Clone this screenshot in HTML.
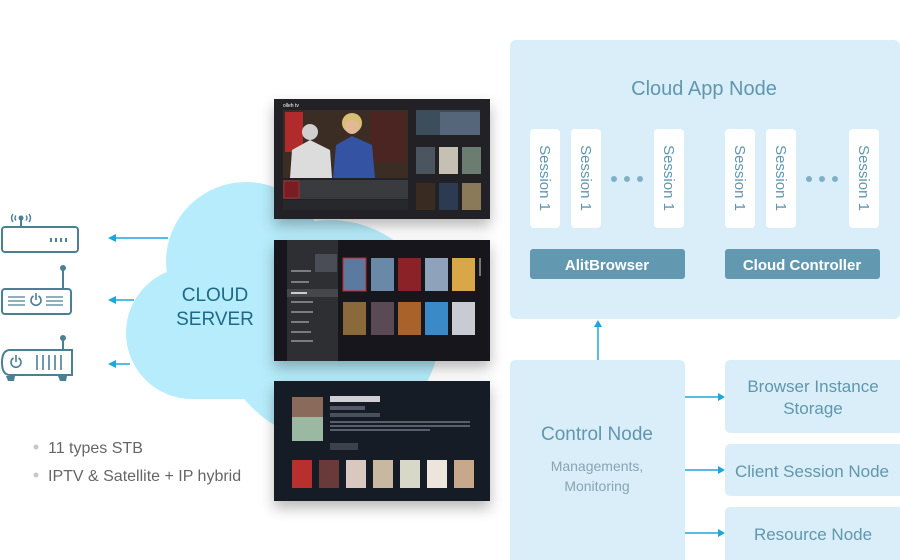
<!DOCTYPE html>
<html><head><meta charset="utf-8">
<style>
html,body{margin:0;padding:0;background:#fff;}
svg{display:block;}
text{font-family:"Liberation Sans","Noto Sans CJK KR",sans-serif;}
</style></head>
<body>
<svg width="900" height="560" viewBox="0 0 900 560" xmlns="http://www.w3.org/2000/svg">
<defs>
<filter id="sh" x="-20%" y="-20%" width="140%" height="150%">
<feDropShadow dx="0" dy="7" stdDeviation="7" flood-color="#000" flood-opacity="0.28"/>
</filter>
</defs>

<!-- Cloud -->
<g fill="#b6ecfb">
<circle cx="246" cy="262" r="80"/>
<circle cx="192" cy="333" r="66"/>
<circle cx="330" cy="330" r="110"/>
<rect x="192" y="300" width="140" height="99"/>
</g>

<!-- arrows from cloud -->
<g stroke="#1aa6df" stroke-width="1.5">
<line x1="114" y1="238" x2="168" y2="238"/>
<line x1="114" y1="300" x2="134" y2="300"/>
<line x1="114" y1="364" x2="130" y2="364"/>
</g>
<g fill="#1aa6df">
<polygon points="108,238 116,234 116,242"/>
<polygon points="108,300 116,296 116,304"/>
<polygon points="108,364 116,360 116,368"/>
</g>

<text x="215" y="301" font-size="19" fill="#1d6a88" text-anchor="middle">CLOUD</text>
<text x="215" y="325" font-size="19" fill="#1d6a88" text-anchor="middle">SERVER</text>

<!-- Device icons -->
<g stroke="#4b7f94" stroke-width="2" fill="none">
<rect x="2" y="227" width="76" height="25" rx="3"/>
<line x1="21" y1="227" x2="21" y2="220"/>
<path d="M13,214 q-3,4 0,8 M16,215.5 q-2,2.5 0,5 M29,214 q3,4 0,8 M26,215.5 q2,2.5 0,5" stroke-width="1.4"/>
<rect x="2" y="289" width="69" height="25" rx="3"/>
<line x1="63" y1="289" x2="63" y2="270"/>
<line x1="8" y1="297" x2="25" y2="297" stroke-width="1.3"/>
<line x1="8" y1="301" x2="25" y2="301" stroke-width="1.3"/>
<line x1="8" y1="305" x2="25" y2="305" stroke-width="1.3"/>
<line x1="46" y1="297" x2="63" y2="297" stroke-width="1.3"/>
<line x1="46" y1="301" x2="63" y2="301" stroke-width="1.3"/>
<line x1="46" y1="305" x2="63" y2="305" stroke-width="1.3"/>
<path d="M33.5,296 a5,5 0 1 0 5,0" stroke-width="1.6"/>
<line x1="36" y1="293" x2="36" y2="300" stroke-width="1.6"/>
<path d="M10,350 L72,350 L72,375 L10,375 Q2,375 2,362.5 Q2,350 10,350 Z"/>
<line x1="63" y1="350" x2="63" y2="340"/>
<path d="M13.5,358 a5,5 0 1 0 5,0" stroke-width="1.6"/>
<line x1="16" y1="355" x2="16" y2="362" stroke-width="1.6"/>
<line x1="37" y1="355" x2="37" y2="370" stroke-width="1.6"/>
<line x1="43" y1="355" x2="43" y2="370" stroke-width="1.6"/>
<line x1="49" y1="355" x2="49" y2="370" stroke-width="1.6"/>
<line x1="55" y1="355" x2="55" y2="370" stroke-width="1.6"/>
<line x1="61" y1="355" x2="61" y2="370" stroke-width="1.6"/>
</g>
<g fill="#4b7f94">
<circle cx="21" cy="218" r="2.5"/>
<circle cx="63" cy="268" r="3"/>
<circle cx="63" cy="338" r="3"/>
<rect x="50" y="238" width="2" height="4"/><rect x="55" y="238" width="2" height="4"/><rect x="60" y="238" width="2" height="4"/><rect x="65" y="238" width="2" height="4"/>
<path d="M6,376 L15,376 L14,381 L8,381 Z"/>
<path d="M58,376 L67,376 L66,381 L60,381 Z"/>
</g>

<!-- bullets -->
<circle cx="36" cy="447" r="2.5" fill="#c8c8c8"/>
<circle cx="36" cy="475" r="2.5" fill="#c8c8c8"/>
<text x="48" y="453" font-size="16" fill="#666">11 types STB</text>
<text x="48" y="481" font-size="16" fill="#666">IPTV &amp; Satellite + IP hybrid</text>

<!-- Screen 1 -->
<g filter="url(#sh)"><rect x="274" y="99" width="216" height="120" fill="#222427"/></g>
<text x="283" y="107" font-size="5" fill="#fff">olleh tv</text>
<rect x="283" y="110" width="125" height="68" fill="#3b2c24"/>
<rect x="285" y="112" width="18" height="40" fill="#b22b2c"/>
<rect x="370" y="112" width="36" height="50" fill="#4a2522"/>
<path d="M290,178 L292,150 L310,140 L330,150 L332,178 Z" fill="#dcdcdc"/>
<circle cx="310" cy="132" r="8" fill="#cfcfcf"/>
<path d="M333,178 L336,145 L352,136 L372,145 L375,178 Z" fill="#3453a2"/>
<circle cx="352" cy="123" r="10" fill="#d8c072"/>
<circle cx="352" cy="127" r="7" fill="#e3b896"/>
<rect x="283" y="180" width="125" height="19" fill="#3a3b3f"/>
<rect x="284" y="181" width="15" height="17" fill="#7a1d23" stroke="#c33" stroke-width="0.6"/>
<rect x="283" y="200" width="125" height="10" fill="#26282b"/>
<rect x="416" y="110" width="64" height="25" fill="#3c4d5c"/>
<rect x="440" y="112" width="40" height="23" fill="#55667a"/>
<rect x="416" y="147" width="19" height="27" fill="#4b5560"/>
<rect x="439" y="147" width="19" height="27" fill="#c6c0b4"/>
<rect x="462" y="147" width="19" height="27" fill="#6b7d70"/>
<rect x="416" y="183" width="19" height="27" fill="#3a2b22"/>
<rect x="439" y="183" width="19" height="27" fill="#2c3a52"/>
<rect x="462" y="183" width="19" height="27" fill="#8a7a5a"/>

<!-- Screen 2 -->
<g filter="url(#sh)"><rect x="274" y="240" width="216" height="121" fill="#16181b"/></g>
<rect x="287" y="240" width="51" height="121" fill="#2d2f32"/>
<rect x="287" y="289" width="51" height="8" fill="#45474b"/>
<rect x="315" y="254" width="22" height="18" fill="#4a4d55"/>
<g fill="#7a7c80">
<rect x="291" y="270" width="20" height="2"/><rect x="291" y="281" width="18" height="2"/><rect x="291" y="292" width="16" height="2" fill="#ccc"/><rect x="291" y="301" width="22" height="2"/><rect x="291" y="311" width="22" height="2"/><rect x="291" y="321" width="18" height="2"/><rect x="291" y="331" width="20" height="2"/><rect x="291" y="340" width="22" height="2"/>
</g>
<rect x="343" y="258" width="23" height="33" fill="#5a7aa0" stroke="#c22" stroke-width="1"/>
<rect x="371" y="258" width="23" height="33" fill="#6a88a8"/>
<rect x="398" y="258" width="23" height="33" fill="#8a2228"/>
<rect x="425" y="258" width="23" height="33" fill="#8ea2bc"/>
<rect x="452" y="258" width="23" height="33" fill="#d9a648"/>
<rect x="343" y="302" width="23" height="33" fill="#8a6a3a"/>
<rect x="371" y="302" width="23" height="33" fill="#5a4a55"/>
<rect x="398" y="302" width="23" height="33" fill="#a8622a"/>
<rect x="425" y="302" width="23" height="33" fill="#3a8ac8"/>
<rect x="452" y="302" width="23" height="33" fill="#c8ccd2"/>
<rect x="479" y="258" width="2" height="18" fill="#777"/>

<!-- Screen 3 -->
<g filter="url(#sh)"><rect x="274" y="381" width="216" height="120" fill="#151a26"/></g>
<rect x="292" y="397" width="31" height="44" fill="#9ab8a2"/>
<rect x="292" y="397" width="31" height="20" fill="#8a6a5a"/>
<rect x="330" y="396" width="50" height="6" fill="#cfcfd4"/>
<rect x="330" y="406" width="35" height="4" fill="#555a66"/>
<rect x="330" y="413" width="50" height="4" fill="#4a4f5c"/>
<rect x="330" y="421" width="140" height="2" fill="#5a5f6c"/>
<rect x="330" y="425" width="140" height="2" fill="#5a5f6c"/>
<rect x="330" y="429" width="100" height="2" fill="#5a5f6c"/>
<rect x="330" y="443" width="28" height="7" fill="#3d414c"/>
<rect x="292" y="460" width="20" height="28" fill="#b8302e"/>
<rect x="319" y="460" width="20" height="28" fill="#6a3a3a"/>
<rect x="346" y="460" width="20" height="28" fill="#d8c8c0"/>
<rect x="373" y="460" width="20" height="28" fill="#c8b8a0"/>
<rect x="400" y="460" width="20" height="28" fill="#d8d8c8"/>
<rect x="427" y="460" width="20" height="28" fill="#ede4dc"/>
<rect x="454" y="460" width="20" height="28" fill="#c8a88a"/>

<!-- Cloud App Node -->
<rect x="510" y="40" width="390" height="279" rx="6" fill="#d9eef8"/>
<text x="704" y="95" font-size="20" fill="#6097ae" text-anchor="middle">Cloud App Node</text>
<g fill="#fff">
<rect x="530" y="129" width="30" height="99" rx="4"/>
<rect x="571" y="129" width="30" height="99" rx="4"/>
<rect x="654" y="129" width="30" height="99" rx="4"/>
<rect x="725" y="129" width="30" height="99" rx="4"/>
<rect x="766" y="129" width="30" height="99" rx="4"/>
<rect x="849" y="129" width="30" height="99" rx="4"/>
</g>
<g font-size="15" fill="#6097ae" text-anchor="middle">
<text transform="translate(540,178) rotate(90)">Session 1</text>
<text transform="translate(581,178) rotate(90)">Session 1</text>
<text transform="translate(664,178) rotate(90)">Session 1</text>
<text transform="translate(735,178) rotate(90)">Session 1</text>
<text transform="translate(776,178) rotate(90)">Session 1</text>
<text transform="translate(859,178) rotate(90)">Session 1</text>
</g>
<g fill="#7fb0c6">
<circle cx="614" cy="179" r="3"/><circle cx="627" cy="179" r="3"/><circle cx="640" cy="179" r="3"/>
<circle cx="809" cy="179" r="3"/><circle cx="822" cy="179" r="3"/><circle cx="835" cy="179" r="3"/>
</g>
<rect x="530" y="249" width="155" height="30" rx="3" fill="#6399b0"/>
<rect x="725" y="249" width="155" height="30" rx="3" fill="#6399b0"/>
<text x="607" y="270" font-size="15" fill="#fff" text-anchor="middle" font-weight="bold">AlitBrowser</text>
<text x="802" y="270" font-size="15" fill="#fff" text-anchor="middle" font-weight="bold">Cloud Controller</text>

<!-- arrow up -->
<line x1="598" y1="360" x2="598" y2="326" stroke="#1aa6df" stroke-width="1.5"/>
<polygon points="598,320 594,327 602,327" fill="#1aa6df"/>

<!-- Control Node -->
<rect x="510" y="360" width="175" height="206" rx="5" fill="#d9eef8"/>
<text x="597" y="440" font-size="19" fill="#6097ae" text-anchor="middle">Control Node</text>
<text x="597" y="471" font-size="14" fill="#8aa4b1" text-anchor="middle">Managements,</text>
<text x="597" y="491" font-size="14" fill="#8aa4b1" text-anchor="middle">Monitoring</text>

<!-- right boxes -->
<rect x="725" y="360" width="180" height="73" rx="5" fill="#d9eef8"/>
<rect x="725" y="444" width="180" height="52" rx="5" fill="#d9eef8"/>
<rect x="725" y="507" width="180" height="59" rx="5" fill="#d9eef8"/>
<g font-size="17" fill="#6097ae" text-anchor="middle">
<text x="813" y="392">Browser Instance</text>
<text x="813" y="414">Storage</text>
<text x="812" y="477">Client Session Node</text>
<text x="813" y="540">Resource Node</text>
</g>
<g stroke="#1aa6df" stroke-width="1.5">
<line x1="685" y1="397" x2="719" y2="397"/>
<line x1="685" y1="470" x2="719" y2="470"/>
<line x1="685" y1="533" x2="719" y2="533"/>
</g>
<g fill="#1aa6df">
<polygon points="725,397 718,393 718,401"/>
<polygon points="725,470 718,466 718,474"/>
<polygon points="725,533 718,529 718,537"/>
</g>
</svg>
</body></html>
